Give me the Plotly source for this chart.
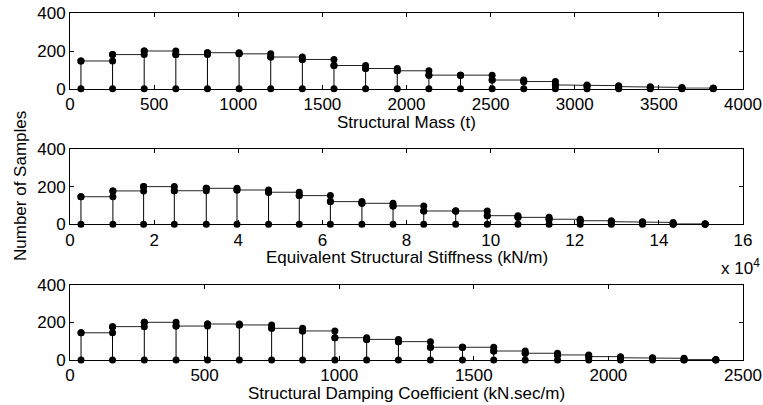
import plotly.graph_objects as go

# ---- data ----
mass_centers = [65, 253, 441, 629, 817, 1005, 1193, 1381, 1569, 1757, 1945,
                2133, 2321, 2509, 2697, 2885, 3073, 3261, 3449, 3637, 3823]
mass_counts = [147, 181, 200, 181, 191, 185, 168, 155, 123, 107, 95,
               72, 72, 46, 38, 20, 16, 11, 7, 3, 2]

stiff_centers = [2600, 10200, 17500, 24800, 32400, 39700, 47200, 54500, 61900, 69400, 76800,
                 84100, 91700, 99200, 106500, 113900, 121300, 128700, 136100, 143400, 151000]
stiff_counts = [147, 178, 201, 179, 192, 183, 171, 153, 121, 112, 98,
                71, 71, 46, 37, 27, 19, 14, 10, 2, 2]

damp_centers = [41, 158, 276, 394, 511, 629, 749, 864, 984, 1102, 1220,
                1339, 1458, 1574, 1691, 1811, 1927, 2045, 2164, 2281, 2399]
damp_counts = [145, 178, 201, 181, 192, 187, 169, 155, 119, 110, 98,
               68, 68, 48, 36, 27, 18, 12, 9, 2, 2]

y_ticks = [0, 200, 400]
mass_ticks = [0, 500, 1000, 1500, 2000, 2500, 3000, 3500, 4000]
stiff_ticks = [0, 20000, 40000, 60000, 80000, 100000, 120000, 140000, 160000]
stiff_ticktext = ["0", "2", "4", "6", "8", "10", "12", "14", "16"]
damp_ticks = [0, 500, 1000, 1500, 2000, 2500]

titles = ["Structural Mass (t)", "Equivalent Structural Stiffness (kN/m)",
          "Structural Damping Coefficient (kN.sec/m)"]

FONT = "Arial, Liberation Sans, sans-serif"
FS = 17

fig = go.Figure()

W, H = 763, 405
ML, MR, MT, MB = 0, 20, 8, 0
PW, PH = W - ML - MR, H - MT - MB


def px_x(p):
    return (p - ML) / PW


def px_y(p):
    return 1 - (p - MT) / PH


x_dom = [px_x(70), px_x(743)]
panels = [
    (mass_centers, mass_counts, [0, 4000], mass_ticks, None, (13.3, 88.7)),
    (stiff_centers, stiff_counts, [0, 160000], stiff_ticks, stiff_ticktext, (149.3, 224.3)),
    (damp_centers, damp_counts, [0, 2500], damp_ticks, None, (285, 360)),
]

marker = dict(color="black", size=7)
for k, (xs, ys, xr, xt, xtt, (ytop, ybot)) in enumerate(panels):
    xa = "x" if k == 0 else f"x{k+1}"
    ya = "y" if k == 0 else f"y{k+1}"
    # stems
    sx, sy = [], []
    for x, y in zip(xs, ys):
        sx += [x, x, None]
        sy += [0, y, None]
    fig.add_trace(go.Scatter(x=sx, y=sy, mode="lines+markers", xaxis=xa, yaxis=ya,
                             line=dict(color="black", width=1), marker=marker,
                             cliponaxis=False, showlegend=False))
    # stairs
    tx, ty = [], []
    for i in range(len(xs)):
        tx.append(xs[i]); ty.append(ys[i])
        if i + 1 < len(xs):
            tx.append(xs[i + 1]); ty.append(ys[i])
    fig.add_trace(go.Scatter(x=tx, y=ty, mode="lines+markers", xaxis=xa, yaxis=ya,
                             line=dict(color="#222222", width=1), marker=marker,
                             cliponaxis=False, showlegend=False))
    dom_y = [px_y(ybot), px_y(ytop)]
    axis_common = dict(showline=True, linecolor="black", linewidth=1, mirror="ticks",
                       ticks="inside", ticklen=4, tickcolor="black", showgrid=False,
                       zeroline=False, automargin=False,
                       tickfont=dict(family=FONT, size=FS, color="black"))
    xkey = "xaxis" if k == 0 else f"xaxis{k+1}"
    ykey = "yaxis" if k == 0 else f"yaxis{k+1}"
    xdict = dict(domain=x_dom, range=xr, tickvals=xt, anchor=ya, **axis_common)
    if xtt:
        xdict["ticktext"] = xtt
    fig.update_layout({xkey: xdict,
                       ykey: dict(domain=dom_y, range=[0, 400], tickvals=y_ticks, anchor=xa,
                                  **axis_common)})
    fig.add_annotation(text=titles[k], xref="paper", yref="paper",
                       x=(x_dom[0] + x_dom[1]) / 2, y=px_y(ybot + 22),
                       xanchor="center", yanchor="top", showarrow=False,
                       font=dict(family=FONT, size=FS, color="black"))

fig.add_annotation(text="x 10<sup>4</sup>", xref="paper", yref="paper",
                   x=px_x(762), y=px_y(254), xanchor="right", yanchor="top", showarrow=False,
                   font=dict(family=FONT, size=FS, color="black"))
fig.add_annotation(text="Number of Samples", xref="paper", yref="paper",
                   x=px_x(20), y=px_y(186), xanchor="center", yanchor="middle", textangle=-90,
                   showarrow=False, font=dict(family=FONT, size=FS, color="black"))

fig.update_layout(width=W, height=H, margin=dict(l=ML, r=MR, t=MT, b=MB, autoexpand=False),
                  paper_bgcolor="white", plot_bgcolor="white")
fig.write_html("out.html")
